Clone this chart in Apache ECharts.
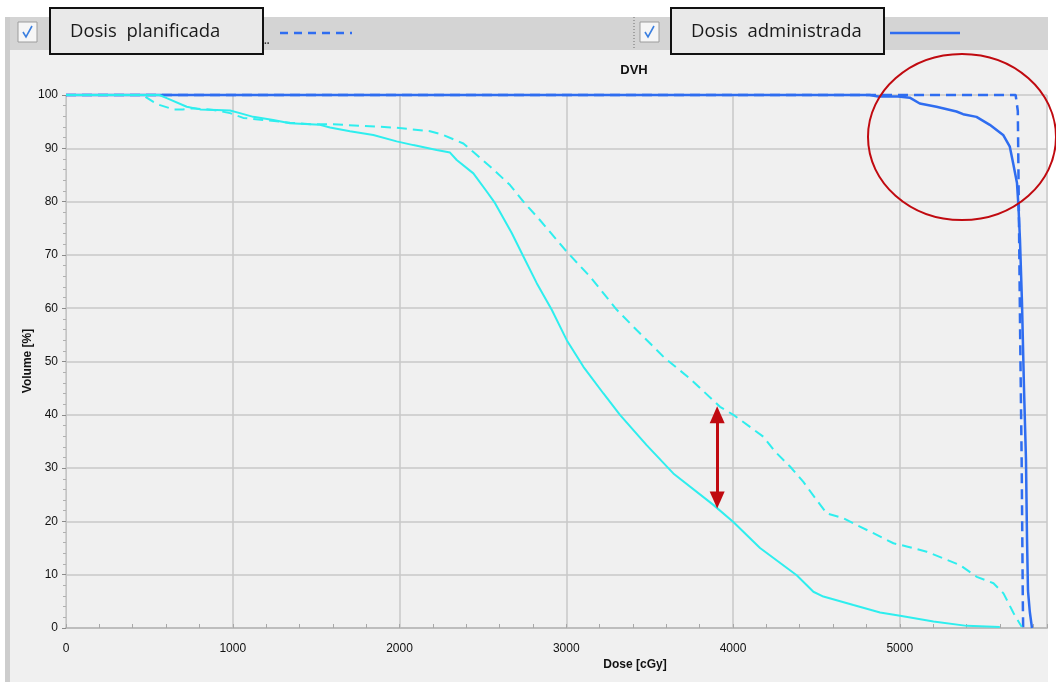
<!DOCTYPE html>
<html>
<head>
<meta charset="utf-8">
<title>DVH</title>
<script src="https://cdn.jsdelivr.net/npm/echarts@6/dist/echarts.min.js"></script>
<style>
  html, body { margin: 0; padding: 0; background: #ffffff; }
  #chart { width: 1056px; height: 682px; }
</style>
</head>
<body>
<div id="chart"></div>
<script>
// Dose-volume histogram: target (blue) and organ at risk (cyan), planned vs delivered.
const legendNames = ['Dosis  planificada', 'Dosis  administrada'];

const targetPlanDose = [0, 5695, 5708, 5712, 5722, 5731, 5738, 5740];
const targetPlanVol  = [100, 100, 97, 85, 55, 31.5, 5, 0];

const targetDelivDose = [0, 4820, 4870, 4990, 5000, 5060, 5120, 5220, 5340, 5380, 5460, 5540, 5620, 5660, 5680, 5703, 5712, 5721, 5733, 5745, 5757, 5763, 5769, 5780, 5793];
const targetDelivVol  = [100, 100, 99.7, 99.7, 100, 99.5, 98.4, 97.8, 96.9, 96.4, 95.9, 94.4, 92.5, 90.3, 87.2, 83.5, 79, 72.8, 61, 45, 31.5, 17, 7, 3, 0];

const organPlanDose = [0, 460, 524, 564, 644, 700, 764, 884, 984, 1063, 1343, 1483, 1603, 1783, 1963, 2063, 2183, 2263, 2383, 2443, 2543, 2663, 2743, 2843, 3003, 3143, 3303, 3422, 3592, 3742, 3922, 4002, 4182, 4252, 4342, 4422, 4502, 4562, 4662, 4742, 4842, 4962, 5042, 5162, 5362, 5462, 5562, 5622, 5682, 5732];
const organPlanVol  = [100, 100, 98.7, 98.1, 97.3, 97.3, 97.5, 97.2, 96.6, 95.7, 94.8, 94.5, 94.5, 94.2, 93.9, 93.6, 93.2, 92.5, 90.9, 89.3, 86.6, 83.1, 80.0, 76.5, 70.6, 65.9, 59.7, 55.9, 50.6, 46.8, 41.5, 40.0, 35.9, 33.1, 30.3, 27.4, 24.0, 21.5, 20.6, 19.3, 17.8, 15.9, 15.3, 14.3, 11.8, 9.6, 8.4, 6.5, 2.8, 0.2];

const organDelivDose = [0, 560, 604, 724, 804, 904, 984, 1043, 1123, 1243, 1343, 1523, 1583, 1703, 1843, 1983, 2083, 2223, 2303, 2343, 2443, 2523, 2573, 2673, 2743, 2823, 2913, 3003, 3103, 3223, 3322, 3482, 3642, 3882, 4002, 4162, 4382, 4482, 4542, 4722, 4882, 5002, 5202, 5402, 5600];
const organDelivVol  = [100, 100, 99.4, 97.8, 97.3, 97.2, 97.1, 96.6, 95.9, 95.3, 94.7, 94.4, 93.9, 93.2, 92.5, 91.3, 90.6, 89.7, 89.2, 87.8, 85.3, 81.9, 79.7, 74.1, 69.7, 64.7, 59.7, 54.0, 49.0, 44.0, 40.0, 34.3, 29.0, 23.1, 19.9, 15.0, 9.9, 6.8, 5.9, 4.3, 2.9, 2.3, 1.2, 0.4, 0.2];

// Dose gap highlighted by the double arrow
const gapDose = 3905;
const gapVol = [40, 24];

const pairs = (d, v) => d.map((x, i) => [x, v[i]]);

const BLUE = '#2f6df0';
const CYAN = '#2eeeee';
const RED = '#c00a10';
const GRID = '#c9c9c9';
const FONT = '"Liberation Sans", Arial, sans-serif';
const UI_FONT = '"Open Sans", "Noto Sans", sans-serif';

const chart = echarts.init(document.getElementById('chart'), null, { renderer: 'canvas' });

function checkbox(x, y) {
  return [
    { type: 'rect', shape: { x: x, y: y, width: 19, height: 20 }, style: { fill: '#f6f6f6', stroke: '#9c9c9c', lineWidth: 1 }, z: 10 },
    { type: 'polyline', shape: { points: [[x + 5, y + 10], [x + 8, y + 15], [x + 14, y + 4]] }, style: { fill: null, stroke: '#3b7fe0', lineWidth: 1.6 }, z: 11 }
  ];
}

function labelBox(x, label) {
  return [
    { type: 'rect', shape: { x: x, y: 8, width: 213, height: 46 }, style: { fill: '#e9e9e9', stroke: '#111111', lineWidth: 2 }, z: 10 },
    { type: 'text', x: x + 20, y: 32, style: { text: label, fill: '#1a1a1a', font: '18.5px ' + UI_FONT, textAlign: 'left', textVerticalAlign: 'middle' }, z: 11 }
  ];
}

const graphics = [
  // panel and header strip
  { type: 'rect', shape: { x: 10, y: 50, width: 1038, height: 632 }, style: { fill: '#f0f0f0' }, z: -10, silent: true },
  { type: 'rect', shape: { x: 10, y: 17, width: 1038, height: 33 }, style: { fill: '#d4d4d4' }, z: -9, silent: true },
  { type: 'rect', shape: { x: 5, y: 17, width: 5, height: 665 }, style: { fill: '#cdcdcd' }, z: -9, silent: true },
  { type: 'line', shape: { x1: 634, y1: 17, x2: 634, y2: 50 }, style: { stroke: '#6e6e6e', lineWidth: 1, lineDash: [1, 2] }, z: 10 },
  ...checkbox(18, 22),
  ...checkbox(640, 22),
  ...labelBox(50, legendNames[0]),
  ...labelBox(671, legendNames[1]),
  { type: 'text', x: 264, y: 36, style: { text: '..', fill: '#333', font: 'bold 10px ' + FONT }, z: 10 },
  { type: 'line', shape: { x1: 280, y1: 33, x2: 352, y2: 33 }, style: { stroke: BLUE, lineWidth: 2.5, lineDash: [8, 6] }, z: 10 },
  { type: 'line', shape: { x1: 890, y1: 33, x2: 960, y2: 33 }, style: { stroke: BLUE, lineWidth: 2.5 }, z: 10 },
  // title and axis names
  { type: 'text', x: 634, y: 70, style: { text: 'DVH', fill: '#111', font: 'bold 13px ' + FONT, textAlign: 'center', textVerticalAlign: 'middle' }, z: 10 },
  { type: 'text', x: 635, y: 665, style: { text: 'Dose [cGy]', fill: '#111', font: 'bold 12px ' + FONT, textAlign: 'center', textVerticalAlign: 'middle' }, z: 10 },
  { type: 'text', x: 28, y: 361, rotation: Math.PI / 2, style: { text: 'Volume [%]', fill: '#111', font: 'bold 12px ' + FONT, textAlign: 'center', textVerticalAlign: 'middle' }, z: 10 },
  // highlight around the target's high-dose shoulder
  { type: 'ellipse', shape: { cx: 962, cy: 137, rx: 94, ry: 83 }, style: { fill: null, stroke: RED, lineWidth: 2 }, z: 20 }
];

const option = {
  animation: false,
  backgroundColor: '#ffffff',
  graphic: graphics,
  grid: { left: 66, right: 9, top: 95, bottom: 54, containLabel: false },
  xAxis: {
    type: 'value', min: 0, max: 5883, interval: 1000, offset: 5,
    axisLine: { show: true, lineStyle: { color: '#bdbdbd', width: 2 } },
    axisTick: { show: true, inside: true, length: 4, lineStyle: { color: '#a8a8a8' } },
    minorTick: { show: true, splitNumber: 5, length: 4, lineStyle: { color: '#a8a8a8' } },
    axisLabel: { color: '#111', fontFamily: FONT, fontSize: 12, margin: 10, showMaxLabel: false, formatter: (v) => String(v) },
    splitLine: { show: true, lineStyle: { color: GRID, width: 1.5 } }
  },
  yAxis: {
    type: 'value', min: 0, max: 100, interval: 10,
    axisLine: { show: true, lineStyle: { color: '#c4c4c4', width: 1 } },
    axisTick: { show: true, length: 4, lineStyle: { color: '#8a8a8a' } },
    minorTick: { show: true, splitNumber: 5, length: 3, lineStyle: { color: '#b0b0b0' } },
    axisLabel: { color: '#111', fontFamily: FONT, fontSize: 12, margin: 8 },
    splitLine: { show: true, lineStyle: { color: GRID, width: 1.5 } }
  },
  series: [
    {
      name: legendNames[0], type: 'line', data: pairs(targetPlanDose, targetPlanVol),
      showSymbol: false, clip: false, z: 3,
      lineStyle: { color: BLUE, width: 2.5, type: [10, 6] }
    },
    {
      name: legendNames[1], type: 'line', data: pairs(targetDelivDose, targetDelivVol),
      showSymbol: false, clip: false, z: 3,
      lineStyle: { color: BLUE, width: 2.5 }
    },
    {
      name: 'organPlan', type: 'line', data: pairs(organPlanDose, organPlanVol),
      showSymbol: false, clip: false, z: 4,
      lineStyle: { color: CYAN, width: 2, type: [10, 6] }
    },
    {
      name: 'organDeliv', type: 'line', data: pairs(organDelivDose, organDelivVol),
      showSymbol: false, clip: false, z: 4,
      lineStyle: { color: CYAN, width: 2 },
      markLine: {
        silent: true, animation: false,
        symbol: ['triangle', 'triangle'], symbolSize: [15, 17],
        label: { show: false },
        lineStyle: { color: RED, width: 3, type: 'solid' },
        data: [[{ coord: [gapDose, gapVol[0]] }, { coord: [gapDose, gapVol[1]] }]]
      }
    }
  ]
};

chart.setOption(option);
</script>
</body>
</html>
